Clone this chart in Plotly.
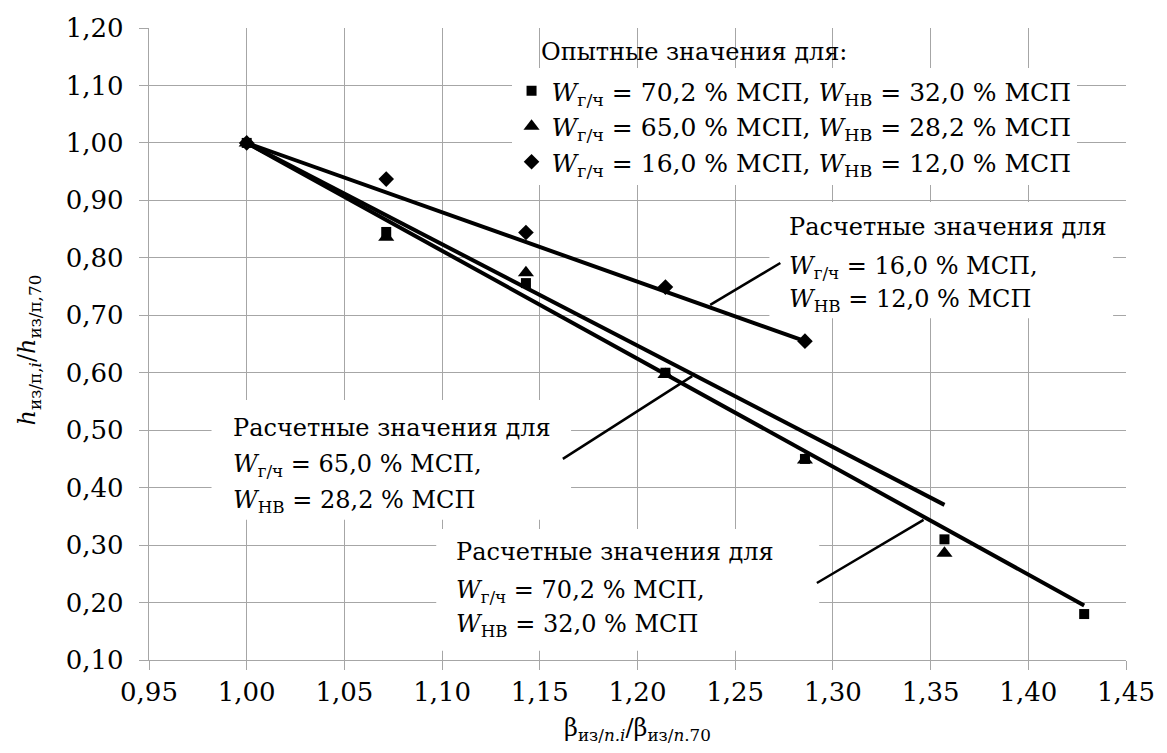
import plotly.graph_objects as go

# ---- data ----
x_exp = [1.0, 1.0714, 1.1429, 1.2143, 1.2857, 1.3571, 1.4286]
y_sq_702 = [1.00, 0.845, 0.756, 0.600, 0.450, 0.310, 0.180]
y_tri_650 = [1.00, 0.836, 0.774, 0.597, 0.448, 0.286]
y_dia_160 = [1.00, 0.937, 0.844, 0.749, 0.655]

x_calc = [1.0, 1.0714, 1.1429, 1.2143, 1.2857, 1.3571, 1.4286]
y_calc_702 = [1.0, 0.866, 0.732, 0.597, 0.463, 0.329, 0.195]
y_calc_650 = [1.0, 0.874, 0.748, 0.622, 0.496, 0.370]
y_calc_160 = [1.0, 0.914, 0.828, 0.741, 0.655]

legend_labels = [
    "<i>W</i><sub>г/ч</sub> = 70,2 % МСП, <i>W</i><sub>НВ</sub> = 32,0 % МСП",
    "<i>W</i><sub>г/ч</sub> = 65,0 % МСП, <i>W</i><sub>НВ</sub> = 28,2 % МСП",
    "<i>W</i><sub>г/ч</sub> = 16,0 % МСП, <i>W</i><sub>НВ</sub> = 12,0 % МСП",
]
calc_labels = [
    ["Расчетные значения для", "<i>W</i><sub>г/ч</sub> = 16,0 % МСП,", "<i>W</i><sub>НВ</sub> = 12,0 % МСП"],
    ["Расчетные значения для", "<i>W</i><sub>г/ч</sub> = 65,0 % МСП,", "<i>W</i><sub>НВ</sub> = 28,2 % МСП"],
    ["Расчетные значения для", "<i>W</i><sub>г/ч</sub> = 70,2 % МСП,", "<i>W</i><sub>НВ</sub> = 32,0 % МСП"],
]
legend_title = "Опытные значения для:"
x_title = "β<sub>из/<i>n.i</i></sub>/β<sub>из/<i>n</i>.70</sub>"
y_title = "<i>h</i><sub>из/п,<i>i</i></sub>/<i>h</i><sub>из/п,70</sub>"

FONT = "DejaVu Serif"
FS_TICK = 26
FS_TXT = 24
FS_LEG = 25
GRID = "#a6a6a6"

fig = go.Figure()

line_style = dict(color="black", width=4)
fig.add_trace(go.Scatter(x=x_calc[:len(y_calc_702)], y=y_calc_702, mode="lines",
                         line=line_style, showlegend=False, hoverinfo="skip"))
fig.add_trace(go.Scatter(x=x_calc[:len(y_calc_650)], y=y_calc_650, mode="lines",
                         line=line_style, showlegend=False, hoverinfo="skip"))
fig.add_trace(go.Scatter(x=x_calc[:len(y_calc_160)], y=y_calc_160, mode="lines",
                         line=line_style, showlegend=False, hoverinfo="skip"))

fig.add_trace(go.Scatter(x=x_exp[:len(y_sq_702)], y=y_sq_702, mode="markers",
                         marker=dict(symbol="square", size=10, color="black"),
                         name=legend_labels[0]))
fig.add_trace(go.Scatter(x=x_exp[:len(y_tri_650)], y=y_tri_650, mode="markers",
                         marker=dict(symbol="triangle-up", size=14, color="black"),
                         name=legend_labels[1]))
fig.add_trace(go.Scatter(x=x_exp[:len(y_dia_160)], y=y_dia_160, mode="markers",
                         marker=dict(symbol="diamond", size=12, color="black"),
                         name=legend_labels[2]))

boxes = [
    (1.2675, 1.4434, 0.695, 0.897),
    (0.982, 1.166, 0.344, 0.5525),
    (1.097, 1.293, 0.116, 0.328),
]
shapes = []
for x0, x1, y0, y1 in boxes:
    shapes.append(dict(type="rect", xref="x", yref="y", x0=x0, x1=x1, y0=y0, y1=y1,
                       fillcolor="white", line=dict(width=0), layer="between"))
leaders = [
    (1.2731, 0.791, 1.2372, 0.718),
    (1.1618, 0.450, 1.2280, 0.594),
    (1.2918, 0.234, 1.3464, 0.344),
]
for x0, y0, x1, y1 in leaders:
    shapes.append(dict(type="line", xref="x", yref="y", x0=x0, y0=y0, x1=x1, y1=y1,
                       line=dict(color="black", width=2.5), layer="above"))


def px2y(py):
    return 1.2 - (py - 28) / 574.5


annotations = []
calc_pos = [(1.2766, (227, 267, 300)), (0.9918, (428, 465, 501)), (1.1062, (552, 591, 625))]
for (ax, ys), lines in zip(calc_pos, calc_labels):
    for py, txt in zip(ys, lines):
        annotations.append(dict(x=ax, y=px2y(py), xref="x", yref="y", text=txt, showarrow=False,
                                xanchor="left", yanchor="middle", align="left",
                                font=dict(family=FONT, size=FS_TXT, color="black")))
annotations.append(dict(x=(544 - 149) / 989, y=(660 - 52) / 632, xref="paper", yref="paper",
                        text=legend_title, showarrow=False, xanchor="left", yanchor="middle",
                        font=dict(family=FONT, size=FS_TXT, color="black")))
annotations.append(dict(x=(27 - 149) / 989, y=(660 - 350) / 632, xref="paper", yref="paper",
                        text=y_title, showarrow=False, textangle=-90,
                        xanchor="center", yanchor="middle",
                        font=dict(family=FONT, size=FS_TXT, color="black")))

fig.update_layout(
    width=1167, height=753,
    margin=dict(l=149, r=29, t=28, b=93),
    paper_bgcolor="white", plot_bgcolor="white",
    separators=", ",
    font=dict(family=FONT, size=FS_TICK, color="black"),
    showlegend=True,
    legend=dict(x=(516 - 149) / 989, y=(660 - 68) / 632, xanchor="left", yanchor="top",
                bgcolor="white", borderwidth=0, font=dict(family=FONT, size=FS_LEG, color="black"),
                itemwidth=30, tracegroupgap=0),
    shapes=shapes,
    annotations=annotations,
)
fig.update_xaxes(range=[0.95, 1.45], dtick=0.05, tick0=0.95, tickformat=".2f",
                 showgrid=True, gridcolor=GRID, gridwidth=1.3, zeroline=False,
                 showline=True, linecolor=GRID, linewidth=1.3,
                 ticks="outside", ticklen=9, tickcolor=GRID, tickwidth=1.3,
                 tickfont=dict(family=FONT, size=FS_TICK, color="black"),
                 title=dict(text=x_title, font=dict(family=FONT, size=FS_TXT, color="black"), standoff=12))
fig.update_yaxes(range=[0.10, 1.20], dtick=0.1, tick0=0.1, tickformat=".2f",
                 showgrid=True, gridcolor=GRID, gridwidth=1.3, zeroline=False,
                 showline=True, linecolor=GRID, linewidth=1.3,
                 ticks="outside", ticklen=9, tickcolor=GRID, tickwidth=1.3,
                 ticklabelstandoff=10,
                 tickfont=dict(family=FONT, size=FS_TICK, color="black"))

fig.write_html("out.html")
